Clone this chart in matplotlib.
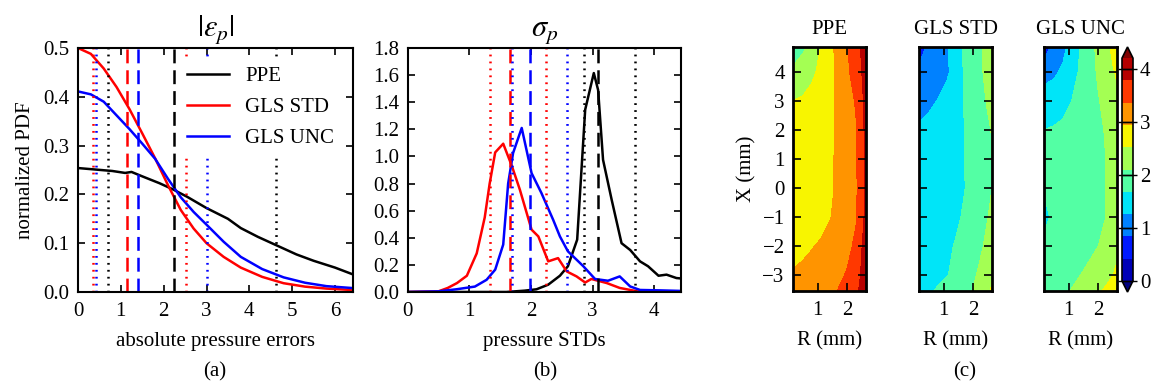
import numpy as np
import matplotlib
matplotlib.use('Agg')
import matplotlib.pyplot as plt

plt.rcParams['font.family'] = ['Liberation Serif', 'DejaVu Serif']
plt.rcParams['mathtext.fontset'] = 'stix'
plt.rcParams['font.size'] = 15
plt.rcParams['lines.scale_dashes'] = False
plt.rcParams['axes.linewidth'] = 1.5
plt.rcParams['xtick.direction'] = 'in'
plt.rcParams['ytick.direction'] = 'in'
plt.rcParams['xtick.major.size'] = 5
plt.rcParams['ytick.major.size'] = 5
plt.rcParams['xtick.major.width'] = 1.2
plt.rcParams['ytick.major.width'] = 1.2
plt.rcParams['xtick.major.pad'] = 7
plt.rcParams['ytick.major.pad'] = 6

######## (a) absolute pressure errors
err_x_ppe = [0, 0.4, 0.8, 1.1, 1.25, 1.5, 1.9, 2.2, 2.55, 3.0, 3.5, 3.8, 4.2, 4.6, 5.1, 5.5, 6.0, 6.42]
err_y_ppe = [0.254, 0.251, 0.248, 0.244, 0.246, 0.237, 0.223, 0.211, 0.195, 0.172, 0.150, 0.131,
             0.113, 0.097, 0.077, 0.064, 0.050, 0.036]
err_x_gls = [0, 0.3, 0.6, 0.9, 1.2, 1.5, 1.8, 2.1, 2.4, 2.7, 3.0, 3.4, 3.8, 4.3, 4.8, 5.3, 5.8, 6.42]
err_y_std = [0.5, 0.488, 0.458, 0.42, 0.375, 0.325, 0.274, 0.219, 0.168, 0.13, 0.1, 0.072,
             0.05, 0.031, 0.018, 0.011, 0.007, 0.004]
err_y_unc = [0.411, 0.405, 0.39, 0.362, 0.334, 0.304, 0.273, 0.232, 0.194, 0.164, 0.138, 0.103,
             0.072, 0.047, 0.03, 0.019, 0.012, 0.008]
# lower dotted, dashed, upper dotted
err_marks_ppe = [0.71, 2.23, 4.62]
err_marks_std = [0.36, 1.15, 2.52]
err_marks_unc = [0.42, 1.39, 3.01]

######## (b) pressure STDs
std_x_ppe = [0, 1.6, 1.9, 2.09, 2.28, 2.47, 2.6, 2.75, 2.88, 3.02, 3.09, 3.17, 3.31, 3.47, 3.61,
             3.77, 3.9, 4.07, 4.2, 4.36, 4.43]
std_y_ppe = [0, 0, 0.01, 0.02, 0.054, 0.12, 0.19, 0.386, 1.345, 1.615, 1.49, 0.975, 0.68, 0.36,
             0.31, 0.226, 0.19, 0.12, 0.128, 0.103, 0.1]
std_x_std = [0, 0.5, 0.65, 0.8, 0.96, 1.12, 1.25, 1.33, 1.42, 1.55, 1.69, 1.82, 2.01, 2.12, 2.28,
             2.44, 2.58, 2.74, 2.88, 2.98, 3.23, 3.44, 3.67, 3.88, 4.43]
std_y_std = [0, 0.005, 0.03, 0.066, 0.12, 0.285, 0.55, 0.80, 1.03, 1.094, 0.93, 0.755, 0.46,
             0.41, 0.226, 0.25, 0.152, 0.115, 0.07, 0.096, 0.066, 0.03, 0.01, 0, 0]
std_x_unc = [0, 0.5, 0.79, 1.09, 1.28, 1.42, 1.55, 1.63, 1.71, 1.85, 2.01, 2.17, 2.36, 2.47, 2.6,
             2.85, 3.04, 3.25, 3.44, 3.61, 3.77, 4.1, 4.43]
std_y_unc = [0, 0.005, 0.02, 0.04, 0.09, 0.165, 0.35, 0.80, 1.025, 1.21, 0.877, 0.73, 0.533,
             0.41, 0.30, 0.19, 0.096, 0.083, 0.115, 0.041, 0.015, 0.012, 0.008]
std_marks_ppe = [2.86, 3.08, 3.69]
std_marks_std = [1.33, 1.66, 2.25]
std_marks_unc = [1.70, 1.99, 2.59]

######## (c) fields, rows from bottom (X=-3.55) to top (X=4.86)
R_grid = [0.17, 0.5, 0.8, 1.1, 1.4, 1.7, 2.0, 2.3, 2.5, 2.63]
X_grid = [-3.55, -3, -2, -1, 0, 1, 2, 3, 4, 4.86]
field_ppe = [[3.0, 3.05, 3.1, 3.16, 3.25, 3.38, 3.52, 3.7, 3.9, 4.1],
             [2.98, 3.02, 3.07, 3.12, 3.18, 3.27, 3.4, 3.6, 3.85, 4.05],
             [2.8, 2.86, 2.92, 2.98, 3.06, 3.14, 3.25, 3.45, 3.78, 4.0],
             [2.65, 2.7, 2.75, 2.82, 2.92, 3.03, 3.17, 3.33, 3.62, 3.95],
             [2.6, 2.65, 2.7, 2.78, 2.88, 3.0, 3.15, 3.32, 3.6, 3.95],
             [2.6, 2.65, 2.7, 2.77, 2.88, 3.0, 3.16, 3.33, 3.6, 3.95],
             [2.58, 2.63, 2.68, 2.75, 2.87, 3.0, 3.17, 3.34, 3.62, 3.95],
             [2.52, 2.57, 2.63, 2.7, 2.85, 3.02, 3.2, 3.4, 3.7, 3.95],
             [2.15, 2.3, 2.45, 2.6, 2.82, 3.05, 3.3, 3.55, 3.8, 3.95],
             [1.95, 2.03, 2.2, 2.52, 2.8, 3.08, 3.33, 3.6, 3.85, 4.0]]
field_std = [[1.55, 1.63, 1.72, 1.8, 1.9, 2.0, 2.12, 2.28, 2.42, 2.6],
             [1.48, 1.54, 1.6, 1.66, 1.76, 1.9, 2.05, 2.2, 2.35, 2.45],
             [1.45, 1.5, 1.55, 1.62, 1.7, 1.82, 1.95, 2.08, 2.2, 2.3],
             [1.42, 1.45, 1.5, 1.55, 1.62, 1.72, 1.85, 1.98, 2.1, 2.2],
             [1.4, 1.43, 1.48, 1.53, 1.6, 1.67, 1.78, 1.9, 2.02, 2.1],
             [1.38, 1.42, 1.47, 1.52, 1.6, 1.68, 1.8, 1.92, 2.02, 2.1],
             [1.3, 1.35, 1.42, 1.5, 1.58, 1.68, 1.82, 1.95, 2.05, 2.12],
             [1.15, 1.2, 1.27, 1.38, 1.52, 1.7, 1.88, 2.02, 2.15, 2.25],
             [0.95, 1.0, 1.1, 1.2, 1.4, 1.72, 1.92, 2.08, 2.25, 2.35],
             [0.6, 0.95, 1.05, 1.22, 1.5, 1.75, 1.95, 2.1, 2.3, 2.4]]
field_unc = [[1.85, 1.92, 2.02, 2.12, 2.22, 2.35, 2.47, 2.6, 2.75, 3.0],
             [1.8, 1.85, 1.92, 2.0, 2.1, 2.2, 2.3, 2.42, 2.52, 2.58],
             [1.75, 1.78, 1.82, 1.87, 1.93, 2.0, 2.1, 2.22, 2.35, 2.45],
             [1.6, 1.74, 1.78, 1.82, 1.86, 1.92, 2.0, 2.12, 2.25, 2.35],
             [1.7, 1.75, 1.78, 1.82, 1.86, 1.92, 2.0, 2.12, 2.25, 2.35],
             [1.72, 1.75, 1.78, 1.82, 1.86, 1.92, 2.0, 2.12, 2.25, 2.35],
             [1.68, 1.72, 1.76, 1.8, 1.85, 1.92, 2.02, 2.15, 2.3, 2.4],
             [1.4, 1.45, 1.55, 1.68, 1.8, 1.92, 2.08, 2.22, 2.38, 2.48],
             [1.15, 1.2, 1.32, 1.5, 1.75, 1.95, 2.15, 2.35, 2.5, 2.55],
             [0.6, 0.95, 1.15, 1.4, 1.7, 1.95, 2.2, 2.45, 2.6, 2.7]]
field_titles = ['PPE', 'GLS STD', 'GLS UNC']
levels = np.linspace(0, 4.2, 11)

colors = ['k', 'r', 'b']
DASH = (0, (10, 5))
DOT = (0, (1.3, 3.7))
LW = 1.8


def all_ticks(ax):
    ax.tick_params(top=True, right=True, which='both')
    ax.minorticks_off()


def vmarks(ax, marks, c):
    ax.axvline(marks[0], color=c, lw=LW, linestyle=DOT)
    ax.axvline(marks[1], color=c, lw=LW, linestyle=DASH)
    ax.axvline(marks[2], color=c, lw=LW, linestyle=DOT)


fig = plt.figure(figsize=(11.55, 3.9), dpi=100)

######################## (a)
ax1 = fig.add_axes([78/1155, 1-292/390, 275/1155, 244/390])
ax1.plot(err_x_ppe, err_y_ppe, color='k', lw=LW, label='PPE')
ax1.plot(err_x_gls, err_y_std, color='r', lw=LW, label='GLS STD')
ax1.plot(err_x_gls, err_y_unc, color='b', lw=LW, label='GLS UNC')
for mk, c in zip([err_marks_ppe, err_marks_std, err_marks_unc], colors):
    vmarks(ax1, mk, c)
ax1.set_xlim(0, 6.42)
ax1.set_ylim(0, 0.5)
ax1.set_xticks(range(7))
ax1.set_yticks(np.arange(0, 0.51, 0.1))
ax1.set_yticklabels(['%.1f' % v for v in np.arange(0, 0.51, 0.1)])
all_ticks(ax1)
ax1.set_xlabel('absolute pressure errors', labelpad=8)
ax1.set_ylabel('normalized PDF', labelpad=6)
ax1.set_title(r'$|\epsilon_p|$', fontsize=22, pad=9)
leg = ax1.legend(loc='upper right', frameon=True, fancybox=False, handlelength=2.0,
                 labelspacing=0.55, borderaxespad=0.5, fontsize=15)
leg.get_frame().set_edgecolor('none')
leg.get_frame().set_alpha(1)

######################## (b)
ax2 = fig.add_axes([407.7/1155, 1-292/390, 273/1155, 244/390])
ax2.plot(std_x_ppe, std_y_ppe, color='k', lw=LW)
ax2.plot(std_x_std, std_y_std, color='r', lw=LW)
ax2.plot(std_x_unc, std_y_unc, color='b', lw=LW)
for mk, c in zip([std_marks_ppe, std_marks_std, std_marks_unc], colors):
    vmarks(ax2, mk, c)
ax2.set_xlim(0, 4.43)
ax2.set_ylim(0, 1.8)
ax2.set_xticks(range(5))
ax2.set_yticks(np.arange(0, 1.81, 0.2))
ax2.set_yticklabels(['%.1f' % v for v in np.arange(0, 1.81, 0.2)])
all_ticks(ax2)
ax2.set_xlabel('pressure STDs', labelpad=8)
ax2.set_title(r'$\sigma_p$', fontsize=22, pad=9)

######################## (c)
lefts = [793, 919, 1044]
for i, fld in enumerate([field_ppe, field_std, field_unc]):
    ax = fig.add_axes([lefts[i]/1155, 1-291/390, 73/1155, 244/390])
    cs = ax.contourf(R_grid, X_grid, np.array(fld), levels=levels, cmap='jet', extend='both')
    ax.set_xlim(R_grid[0], R_grid[-1])
    ax.set_ylim(X_grid[0], X_grid[-1])
    ax.set_xticks([1, 2])
    ax.set_yticks(range(-3, 5))
    ax.tick_params(top=True, right=True, length=6, width=1.2)
    if i > 0:
        ax.set_yticklabels([])
    else:
        ax.set_ylabel('X (mm)', labelpad=4)
    ax.set_xlabel('R (mm)', labelpad=8)
    ax.set_title(field_titles[i], fontsize=15, pad=9)
    for sp in ax.spines.values():
        sp.set_linewidth(2)

cax = fig.add_axes([1122/1155, 1-292/390, 11/1155, 245/390])
cb = fig.colorbar(cs, cax=cax, ticks=[0, 1, 2, 3, 4])
cb.ax.tick_params(direction='in', left=True, right=True, length=11, width=1, pad=5)
cb.outline.set_linewidth(1.2)

######## captions
fig.text(215/1155, 1-372/390, '(a)', ha='center', va='center')
fig.text(545/1155, 1-372/390, '(b)', ha='center', va='center')
fig.text(965/1155, 1-372/390, '(c)', ha='center', va='center')

fig.savefig('out.png', dpi=100)
